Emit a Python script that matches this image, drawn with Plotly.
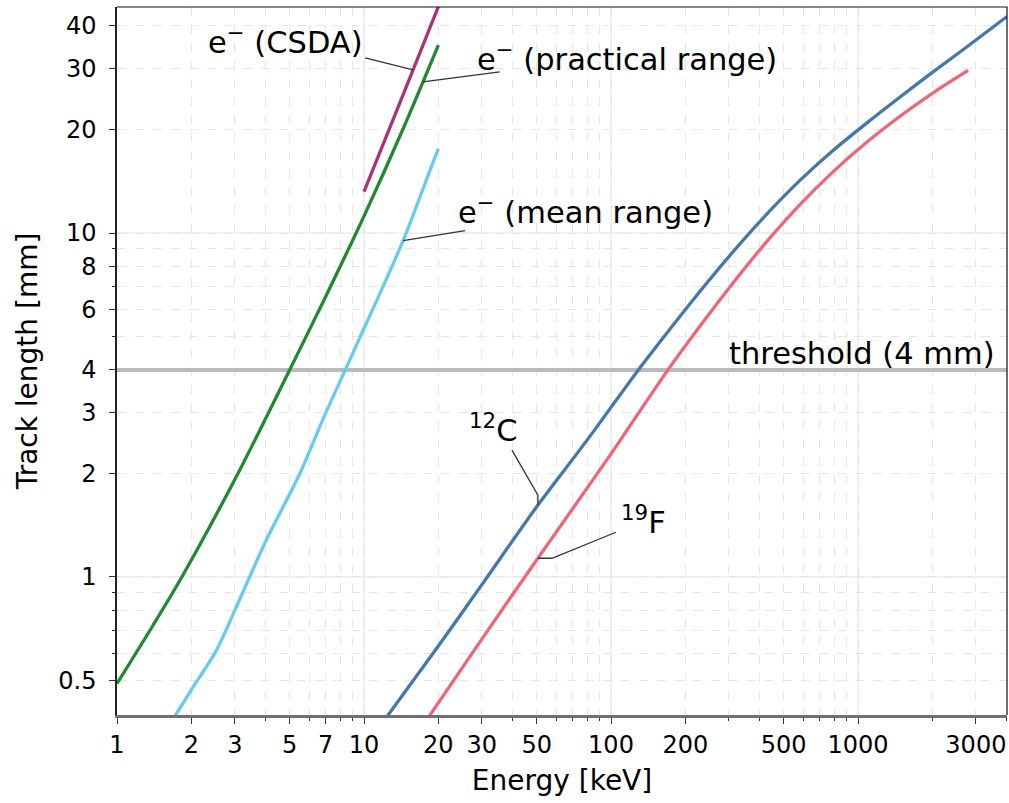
import math
import plotly.graph_objects as go

# ---------------- data ----------------
E_CSDA = [10, 12.5, 15.8, 20]
L_CSDA = [13.2, 19.6, 29.8, 45.5]

E_PRACT = [1, 1.4, 1.83, 3.1, 5, 7, 10, 14.4, 20]
L_PRACT = [0.49, 0.724, 1.0, 2.01, 4.0, 6.54, 11.2, 20.1, 35.2]

E_MEAN = [1.7, 2.0, 2.53, 3.0, 4.0, 5.5, 6.9, 8.4, 9.9, 11.3, 14.4, 19.0, 20.0]
L_MEAN = [0.39, 0.47, 0.613, 0.80, 1.27, 2.0, 2.93, 4.0, 5.2, 6.4, 9.5, 16.0, 17.6]

E_C12 = [12.3, 20, 30, 50, 80, 129, 169, 229, 312, 428, 582, 792, 1087, 1480, 2013, 2763, 4010]
L_C12 = [0.39, 0.63, 0.95, 1.6, 2.5, 4.0, 5.14, 6.76, 8.82, 11.36, 14.22, 17.37, 20.9, 24.85, 29.4, 34.8, 42.6]

E_F19 = [18.2, 30, 50, 100, 170, 229, 312, 428, 582, 792, 1087, 1480, 2013, 2790]
L_F19 = [0.39, 0.66, 1.12, 2.28, 4.0, 5.36, 7.16, 9.46, 12.1, 15.06, 18.38, 21.85, 25.56, 29.7]

THRESHOLD = 4

X_TICKS = [1, 2, 3, 5, 7, 10, 20, 30, 50, 100, 200, 500, 1000, 3000]
X_MINOR = [4, 6, 8, 9, 40, 60, 70, 80, 90, 300, 400, 600, 700, 800, 900, 2000, 4000]
Y_TICKS = [0.5, 1, 2, 3, 4, 6, 8, 10, 20, 30, 40]
Y_MINOR = [0.6, 0.7, 0.8, 0.9, 5, 7, 9]
X_DECADES = [10, 100, 1000]
Y_DECADES = [1, 10]

# ---------------- styling ----------------
FONT = "DejaVu Sans"
C_CSDA = "#AA3377"
C_PRACT = "#228833"
C_MEAN = "#66CCEE"
C_C12 = "#4477AA"
C_F19 = "#EE6677"

W, H = 1009, 803
ML, MR, MT, MB = 117, 2, 7, 88
PW, PH = W - ML - MR, H - MT - MB
X_RANGE = [0.0, math.log10(4010)]
Y_RANGE = [math.log10(0.397), math.log10(45.4)]


def px2paper(px, py):
    return (px - ML) / PW, (H - MB - py) / PH


def data2paper(e, l):
    return ((math.log10(e) - X_RANGE[0]) / (X_RANGE[1] - X_RANGE[0]),
            (math.log10(l) - Y_RANGE[0]) / (Y_RANGE[1] - Y_RANGE[0]))


def interp_log(e, xs, ys):
    le = math.log10(e)
    for i in range(len(xs) - 1):
        a, b = math.log10(xs[i]), math.log10(xs[i + 1])
        if a <= le <= b:
            t = (le - a) / (b - a)
            return 10 ** (math.log10(ys[i]) + t * (math.log10(ys[i + 1]) - math.log10(ys[i])))
    return ys[-1]


fig = go.Figure()

# threshold line
fig.add_trace(go.Scatter(x=[0.5, 10000], y=[THRESHOLD, THRESHOLD], mode="lines",
                         line=dict(color="#bbbbbb", width=4), hoverinfo="skip", showlegend=False))

for xs, ys, col in [(E_PRACT, L_PRACT, C_PRACT), (E_CSDA, L_CSDA, C_CSDA),
                    (E_MEAN, L_MEAN, C_MEAN), (E_C12, L_C12, C_C12), (E_F19, L_F19, C_F19)]:
    fig.add_trace(go.Scatter(x=xs, y=ys, mode="lines",
                             line=dict(color=col, width=3.3, shape="spline", smoothing=0.8),
                             showlegend=False))

shapes = []
# solid decade grid lines
for d in X_DECADES:
    xp, _ = data2paper(d, 1)
    shapes.append(dict(type="line", xref="paper", yref="paper", x0=xp, x1=xp, y0=0, y1=1,
                       line=dict(color="#e3e3e3", width=1), layer="between"))
for d in Y_DECADES:
    _, yp = data2paper(1, d)
    shapes.append(dict(type="line", xref="paper", yref="paper", x0=0, x1=1, y0=yp, y1=yp,
                       line=dict(color="#e3e3e3", width=1), layer="between"))

# top / right frame
shapes.append(dict(type="path", xref="paper", yref="paper", path="M 0,1 L 1,1 L 1,0",
                   line=dict(color="#111111", width=1.2), layer="above"))

# leader lines: (curve, anchor energy, pixel offsets (dx, dy down))
leaders = [
    ((E_CSDA, L_CSDA), 15.8, [(0, 0), (-48, -12)]),
    ((E_PRACT, L_PRACT), 17.3, [(0, 0), (77, -10)]),
    ((E_MEAN, L_MEAN), 14.4, [(0, 0), (62, -10)]),
    ((E_C12, L_C12), 50.6, [(0, 0), (0, -10), (-26, -55)]),
    ((E_F19, L_F19), 50.6, [(0, 0), (14, 0), (78, -26)]),
]
for (xs, ys), e, offs in leaders:
    ax, ay = data2paper(e, interp_log(e, xs, ys))
    pts = [(ax + dx / PW, ay - dy / PH) for dx, dy in offs]
    path = "M " + " L ".join(f"{x:.5f},{y:.5f}" for x, y in pts)
    shapes.append(dict(type="path", xref="paper", yref="paper", path=path,
                       line=dict(color="#333333", width=1.3), layer="above"))

annotations = []
labels = [
    ("e<sup>−</sup> (CSDA)", 206, 40, "left"),
    ("e<sup>−</sup> (practical range)", 475, 57, "left"),
    ("e<sup>−</sup> (mean range)", 456, 210, "left"),
    ("threshold (4 mm)", 997, 353, "right"),
    ("<sup>12</sup>C", 493, 428, "center"),
    ("<sup>19</sup>F", 643, 520, "center"),
]
for txt, px, py, xa in labels:
    xp, yp = px2paper(px, py)
    annotations.append(dict(text=txt, x=xp, y=yp, xref="paper", yref="paper",
                            xanchor=xa, yanchor="middle", showarrow=False,
                            font=dict(family=FONT, size=30.5, color="black")))

axis_common = dict(type="log", showgrid=True, gridcolor="#e6e6e6", gridwidth=1, griddash="dash",
                   ticks="outside", ticklen=6, tickwidth=1.2, tickcolor="#333333",
                   tickfont=dict(family=FONT, size=24, color="black"), zeroline=False,
                   showline=True, mirror=False)

fig.update_layout(
    width=W, height=H, margin=dict(l=ML, r=MR, t=MT, b=MB, pad=0),
    plot_bgcolor="white", paper_bgcolor="white",
    font=dict(family=FONT, color="black"),
    xaxis=dict(axis_common, range=X_RANGE, tickmode="array", tickvals=X_TICKS,
               ticktext=[str(v) for v in X_TICKS], linecolor="#707070", linewidth=2.5,
               ticklabelstandoff=0,
               minor=dict(tickmode="array", tickvals=X_MINOR, ticks="outside", ticklen=3.5,
                          tickcolor="#333333", showgrid=True, gridcolor="#e6e6e6", griddash="dash"),
               title=dict(text="Energy [keV]", font=dict(family=FONT, size=28), standoff=13)),
    yaxis=dict(axis_common, range=Y_RANGE, tickmode="array", tickvals=Y_TICKS,
               ticktext=[f"{v:g}" for v in Y_TICKS], linecolor="#222222", linewidth=1.5,
               ticklabelstandoff=8,
               minor=dict(tickmode="array", tickvals=Y_MINOR, ticks="outside", ticklen=3.5,
                          tickcolor="#333333", showgrid=True, gridcolor="#e6e6e6", griddash="dash"),
               title=dict(text="Track length [mm]", font=dict(family=FONT, size=28), standoff=12)),
    shapes=shapes, annotations=annotations, showlegend=False,
)

fig.write_html("out.html", include_plotlyjs=True, full_html=True,
               config={"displayModeBar": False},
               post_script="document.body.style.margin='0';document.body.style.overflow='hidden';")
